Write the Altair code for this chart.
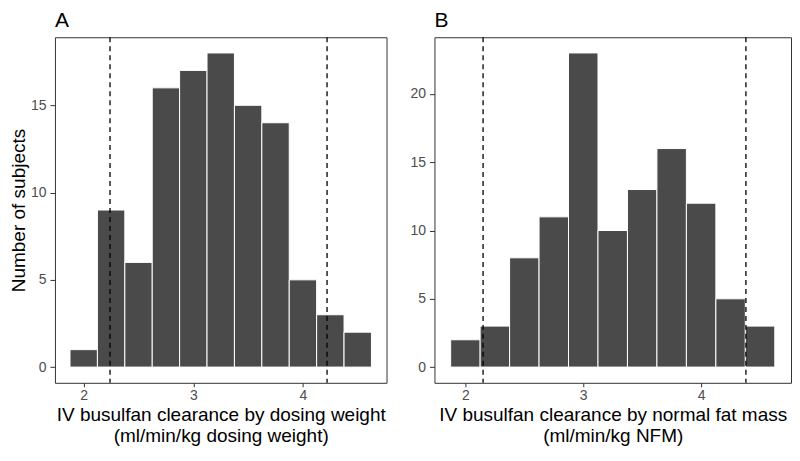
import altair as alt
import pandas as pd

bin_centers = [2.0, 2.25, 2.5, 2.75, 3.0, 3.25, 3.5, 3.75, 4.0, 4.25, 4.5]
counts_a = [1, 9, 6, 16, 17, 18, 15, 14, 5, 3, 2]
counts_b = [2, 3, 8, 11, 23, 10, 13, 16, 12, 5, 3]
cutoffs_a = [2.24, 4.22]
cutoffs_b = [2.15, 4.38]
bin_width = 0.25

FONT = "Liberation Sans"
X_DOMAIN = [1.7375, 4.7625]


def panel(counts, cutoffs, ymax, yticks, title, xtitle, ytitle, width, ytp):
    df = pd.DataFrame({
        "center": bin_centers,
        "count": counts,
    })
    df["x0"] = df["center"] - bin_width / 2
    df["x1"] = df["center"] + bin_width / 2
    pad = ymax * 0.05
    xs = alt.Scale(domain=X_DOMAIN, nice=False, zero=False)
    ys = alt.Scale(domain=[-pad, ymax + pad], nice=False, zero=False)
    bars = alt.Chart(df).mark_bar(
        color="#4a4a4a", stroke="white", strokeWidth=1
    ).encode(
        x=alt.X("x0:Q", scale=xs,
                axis=alt.Axis(values=[2, 3, 4], title=xtitle, format="d")),
        x2="x1:Q",
        y=alt.Y("count:Q", scale=ys,
                axis=alt.Axis(values=yticks, title=ytitle, titlePadding=ytp)),
        y2=alt.datum(0),
    )
    lines = alt.Chart(pd.DataFrame({"cut": cutoffs})).mark_rule(
        color="black", strokeDash=[5, 4], strokeWidth=1.3
    ).encode(x=alt.X("cut:Q", scale=xs))
    return (bars + lines).properties(
        width=width, height=346,
        title=alt.TitleParams(title, anchor="start", frame="group",
                              fontSize=21, fontWeight="normal", font=FONT,
                              color="black", offset=6),
    )


a = panel(counts_a, cutoffs_a, 18, [0, 5, 10, 15], "A",
          ["IV busulfan clearance by dosing weight", "(ml/min/kg dosing weight)"],
          "Number of subjects", 332, 2)
b = panel(counts_b, cutoffs_b, 23, [0, 5, 10, 15, 20], "B",
          ["IV busulfan clearance by normal fat mass", "(ml/min/kg NFM)"],
          "", 357, 4)

chart = alt.hconcat(a, b, spacing=21).properties(
    background="white", padding=0
).configure_view(
    stroke="#333333", strokeWidth=1
).configure_axis(
    grid=False, domain=False, tickColor="#333333", tickSize=5,
    labelFont=FONT, labelFontSize=14, labelColor="#4d4d4d", labelPadding=4,
    titleFont=FONT, titleFontSize=19, titleColor="black", titleFontWeight="normal",
).configure_axisX(titlePadding=3, labelPadding=2, tickSize=4)

chart.save("out.html", embed_options={"renderer": "svg", "actions": False})
